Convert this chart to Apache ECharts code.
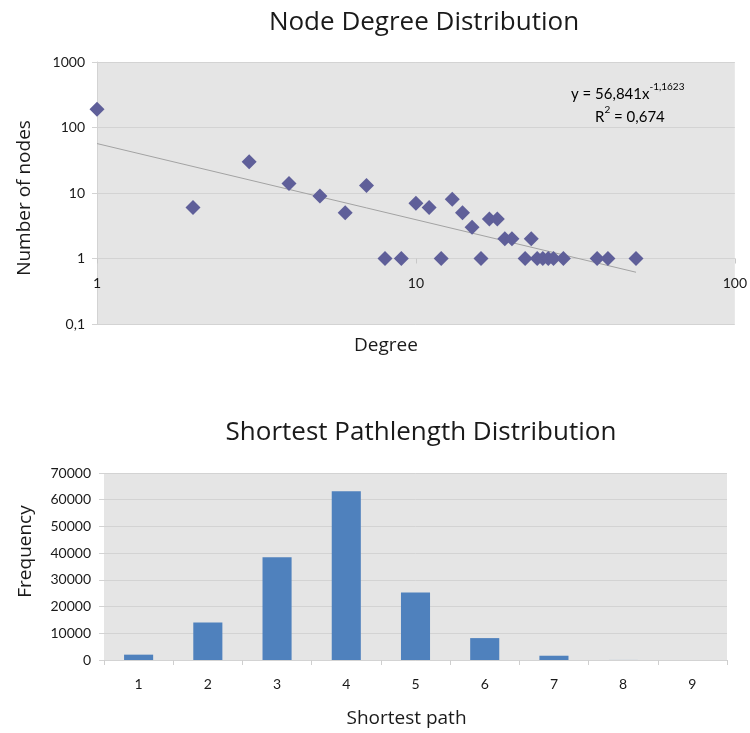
<!DOCTYPE html>
<html>
<head>
<meta charset="utf-8">
<title>Network statistics</title>
<script src="https://cdn.jsdelivr.net/npm/echarts@6/dist/echarts.min.js"></script>
<style>
  html, body { margin: 0; padding: 0; background: #ffffff; }
  #chart { width: 750px; height: 733px; }
</style>
</head>
<body>
<div id="chart"></div>
<script>
// Node degree distribution (log-log)
const degrees    = [1, 2, 3, 4, 5, 6, 7, 8, 9, 10, 11, 12, 13, 14, 15, 16, 17, 18, 19, 20, 22, 23, 24, 25, 26, 27, 29, 37, 40, 49];
const nodeCounts = [190, 6, 30, 14, 9, 5, 13, 1, 1, 7, 6, 1, 8, 5, 3, 1, 4, 4, 2, 2, 1, 2, 1, 1, 1, 1, 1, 1, 1, 1];

// Power-law fit reported for the degree data
const trendA = 56.841;
const trendB = -1.1623;
const trendR2 = 0.674;

// Shortest path length distribution
const pathLengths = ['1', '2', '3', '4', '5', '6', '7', '8', '9'];
const pathFrequency = [2000, 14000, 38500, 63200, 25300, 8200, 1600, 20, 2];

const FONT = 'Lato, "Open Sans", sans-serif';
const HEAD_FONT = '"Open Sans", Lato, sans-serif';
const TEXT = '#1a1a1a';
const PLOT_BG = '#e5e5e5';
const GRID_LINE = '#d3d3d3';

const comma = v => String(v).replace('.', ',');

const scatterData = degrees.map((d, i) => [d, nodeCounts[i]]);
const dMin = Math.min(...degrees);
const dMax = Math.max(...degrees);
const fit = x => trendA * Math.pow(x, trendB);
const trendData = [[dMin, fit(dMin)], [dMax, fit(dMax)]];

const degreeGrid = { left: 97, top: 62, width: 639, height: 262 };
const pathGrid = { left: 104, top: 473, width: 623, height: 187 };
// y = 1 sits one decade above the bottom of the 0.1..1000 range
const xCrossOffset = -degreeGrid.height / 4;

const eqRich = {
  b: { fontFamily: FONT, fontSize: 15, color: TEXT, lineHeight: 20, verticalAlign: 'bottom' },
  s: { fontFamily: FONT, fontSize: 10, color: TEXT, lineHeight: 12, verticalAlign: 'top' }
};

const chart = echarts.init(document.getElementById('chart'), null, { renderer: 'canvas' });

chart.setOption({
  animation: false,
  textStyle: { fontFamily: FONT, color: TEXT },
  title: [
    { text: 'Node Degree Distribution', left: 419, top: 5, textAlign: 'center',
      textStyle: { fontFamily: HEAD_FONT, fontSize: 26, fontWeight: 'normal', color: TEXT } },
    { text: 'Shortest Pathlength Distribution', left: 416, top: 415, textAlign: 'center',
      textStyle: { fontFamily: HEAD_FONT, fontSize: 26, fontWeight: 'normal', color: TEXT } }
  ],
  grid: [
    Object.assign({ show: true, backgroundColor: PLOT_BG, borderWidth: 0, containLabel: false }, degreeGrid),
    Object.assign({ show: true, backgroundColor: PLOT_BG, borderWidth: 0, containLabel: false }, pathGrid)
  ],
  xAxis: [
    {
      gridIndex: 0, type: 'log', logBase: 10, min: 1, max: 100,
      position: 'bottom', offset: xCrossOffset,
      name: 'Degree', nameLocation: 'middle', nameGap: 78,
      nameTextStyle: { fontFamily: HEAD_FONT, fontSize: 19, color: TEXT, padding: [0, 60, 0, 0] },
      axisLine: { show: true, lineStyle: { color: GRID_LINE, width: 1 } },
      axisTick: { show: true, length: 5, lineStyle: { color: '#c8c8c8' } },
      minorTick: { show: false },
      splitLine: { show: false },
      axisLabel: { fontFamily: FONT, fontSize: 14, color: TEXT, margin: 18, formatter: comma }
    },
    {
      gridIndex: 1, type: 'category', data: pathLengths,
      name: 'Shortest path', nameLocation: 'middle', nameGap: 49,
      nameTextStyle: { fontFamily: HEAD_FONT, fontSize: 19, color: TEXT, padding: [0, 18, 0, 0] },
      axisLine: { show: true, lineStyle: { color: GRID_LINE } },
      axisTick: { show: true, length: 5, alignWithLabel: false, lineStyle: { color: '#cfcfcf' } },
      splitLine: { show: false },
      axisLabel: { fontFamily: FONT, fontSize: 14, color: TEXT, margin: 17 }
    }
  ],
  yAxis: [
    {
      gridIndex: 0, type: 'log', logBase: 10, min: 0.1, max: 1000,
      name: 'Number of nodes', nameLocation: 'middle', nameGap: 63, nameRotate: 90,
      nameTextStyle: { fontFamily: HEAD_FONT, fontSize: 19, color: TEXT, padding: [0, 10, 0, 0] },
      axisLine: { show: true, lineStyle: { color: GRID_LINE } },
      axisTick: { show: true, length: 5, lineStyle: { color: GRID_LINE } },
      minorTick: { show: false },
      splitLine: { show: true, lineStyle: { color: GRID_LINE, width: 1 } },
      axisLabel: { fontFamily: FONT, fontSize: 14, color: TEXT, margin: 12, formatter: comma }
    },
    {
      gridIndex: 1, type: 'value', min: 0, max: 70000, interval: 10000,
      name: 'Frequency', nameLocation: 'middle', nameGap: 69, nameRotate: 90,
      nameTextStyle: { fontFamily: HEAD_FONT, fontSize: 19, color: TEXT, padding: [0, 0, 0, 30] },
      axisLine: { show: false },
      axisTick: { show: true, length: 5, lineStyle: { color: GRID_LINE } },
      splitLine: { show: true, lineStyle: { color: GRID_LINE, width: 1 } },
      axisLabel: { fontFamily: FONT, fontSize: 14, color: TEXT, margin: 13, formatter: v => String(v) }
    }
  ],
  series: [
    {
      name: 'Power fit', type: 'line', xAxisIndex: 0, yAxisIndex: 0,
      data: trendData, symbol: 'none', silent: true, z: 2,
      lineStyle: { color: '#a3a3a3', width: 1 }
    },
    {
      name: 'Nodes', type: 'scatter', xAxisIndex: 0, yAxisIndex: 0,
      data: scatterData, symbol: 'diamond', symbolSize: 15, z: 3,
      itemStyle: { color: '#5f5f99', opacity: 1 }
    },
    {
      name: 'Frequency', type: 'bar', xAxisIndex: 1, yAxisIndex: 1,
      data: pathFrequency, barWidth: '42%',
      itemStyle: { color: '#4f81bd' }
    }
  ],
  graphic: [
    {
      type: 'text', left: 571, top: 82, z: 10,
      style: { text: '{b|y = ' + comma(trendA) + 'x}{s|' + comma(trendB) + '}', rich: eqRich }
    },
    {
      type: 'text', left: 595, top: 105, z: 10,
      style: { text: '{b|R}{s|2}{b| = ' + comma(trendR2) + '}', rich: eqRich }
    }
  ]
});
</script>
</body>
</html>
